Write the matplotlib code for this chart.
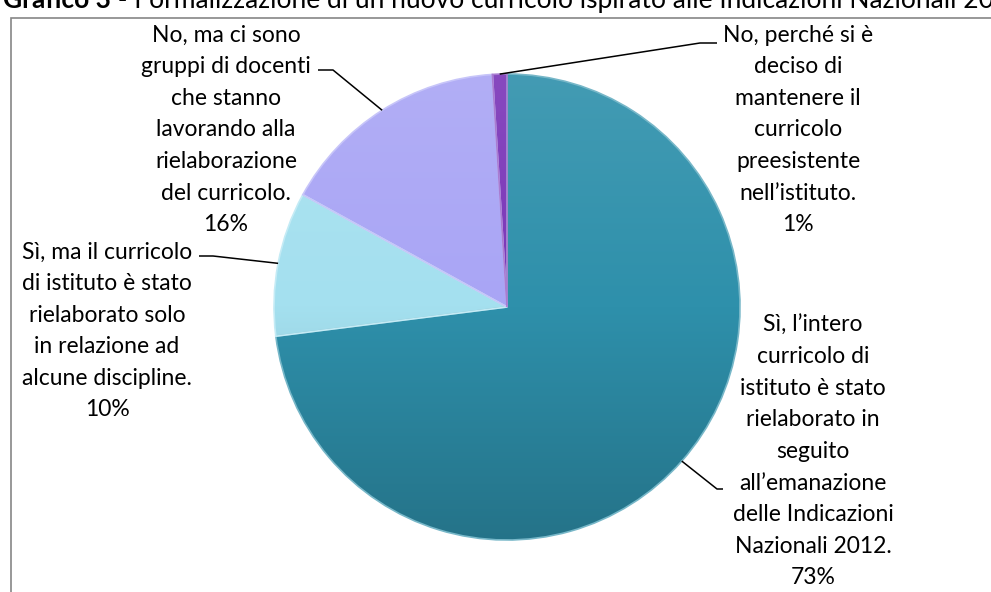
import matplotlib
matplotlib.use('Agg')
import matplotlib.pyplot as plt
import numpy as np
from matplotlib.patches import Rectangle
from matplotlib.colors import LinearSegmentedColormap, to_rgb

# ---------------- data ----------------
title_bold = "Grafico 3"
title_rest = " - Formalizzazione di un nuovo curricolo ispirato alle Indicazioni Nazionali 2012"
categories = [
    "Sì, l’intero\ncurricolo di\nistituto è stato\nrielaborato in\nseguito\nall’emanazione\ndelle Indicazioni\nNazionali 2012.",
    "Sì, ma il curricolo\ndi istituto è stato\nrielaborato solo\nin relazione ad\nalcune discipline.",
    "No, ma ci sono\ngruppi di docenti\nche stanno\nlavorando alla\nrielaborazione\ndel curricolo.",
    "No, perché si è\ndeciso di\nmantenere il\ncurricolo\npreesistente\nnell’istituto.",
]
values = [73, 10, 16, 1]
colors = ['#2E90AB', '#A4E0EF', '#A9A5F5', '#7A35B8']

# ---------------- layout (pixel space) ----------------
W, H = 991, 592
FONT = ['Lato', 'DejaVu Sans']
FS = 16.5
LINE = 31.6
cx, cy, R = 507, 307, 233
label_pos = [(813, 325), (107, 252), (226, 35), (798, 35)]   # centre x, first line y
elbows = [((717, 489), (723, 489)), ((213, 256), (199, 256)),
          ((333, 70), (318, 70)), ((700, 43), (717, 43))]

def P(x, y):
    return x, H - y

fig = plt.figure(figsize=(W / 100, H / 100), dpi=100)
ax = fig.add_axes([0, 0, 1, 1])

wedges, _ = ax.pie(values, colors=colors, startangle=90, counterclock=False,
                   center=P(cx, cy), radius=R, frame=True,
                   wedgeprops=dict(linewidth=1.2))
ax.set_xlim(0, W)
ax.set_ylim(0, H)
ax.set_aspect('equal')
ax.axis('off')

# gentle vertical gradient + light bevel edge on each slice
def mix(c, t, k):
    c = np.array(to_rgb(c)); t = np.array(to_rgb(t))
    return tuple(c + (t - c) * k)

grad = np.linspace(0, 1, 256).reshape(-1, 1)
xl, yb = P(cx - R, cy + R)
for w, c in zip(wedges, colors):
    cmap = LinearSegmentedColormap.from_list('g', [mix(c, 'white', 0.10), c, mix(c, 'black', 0.20)])
    im = ax.imshow(grad, cmap=cmap, extent=(xl, xl + 2 * R, yb, yb + 2 * R),
                   origin='upper', aspect='auto', zorder=w.get_zorder() + 0.1)
    im.set_clip_path(w)
    w.set_edgecolor(mix(c, 'white', 0.35))
    w.set_zorder(w.get_zorder() + 0.2)
    w.set_facecolor('none')
ax.set_xlim(0, W)
ax.set_ylim(0, H)

# labels and leader lines
for i, (w, lab, v) in enumerate(zip(wedges, categories, values)):
    lines = lab.split('\n') + [f"{v}%"]
    lx, ly = label_pos[i]
    for j, s in enumerate(lines):
        ax.text(*P(lx, ly + j * LINE), s, ha='center', va='center',
                fontsize=FS, family=FONT, color='black', zorder=5)
    mid = np.deg2rad((w.theta1 + w.theta2) / 2)
    ex = w.center[0] + R * np.cos(mid)
    ey = w.center[1] + R * np.sin(mid)
    (bx, by), (tx, ty) = elbows[i]
    ax.plot([ex, P(bx, by)[0], P(tx, ty)[0]], [ey, P(bx, by)[1], P(tx, ty)[1]],
            color='black', lw=1.1, zorder=4, solid_capstyle='butt')

# chart-area border
fig.patches.append(Rectangle((11 / W, -0.1), 1.2, (H - 18) / H + 0.1, transform=fig.transFigure,
                             fill=False, edgecolor='#868686', lw=1.2))

# title, clipped by the top of the picture
TY = 1 - 8 / H
t1 = fig.text(3 / W, TY, title_bold, ha='left', va='baseline', fontsize=19,
              family=FONT, fontweight='bold')
fig.canvas.draw()
bb = t1.get_window_extent()
fig.text(bb.x1 / W, TY, title_rest, ha='left', va='baseline', fontsize=19, family=FONT)

fig.savefig('out.png', dpi=100)
